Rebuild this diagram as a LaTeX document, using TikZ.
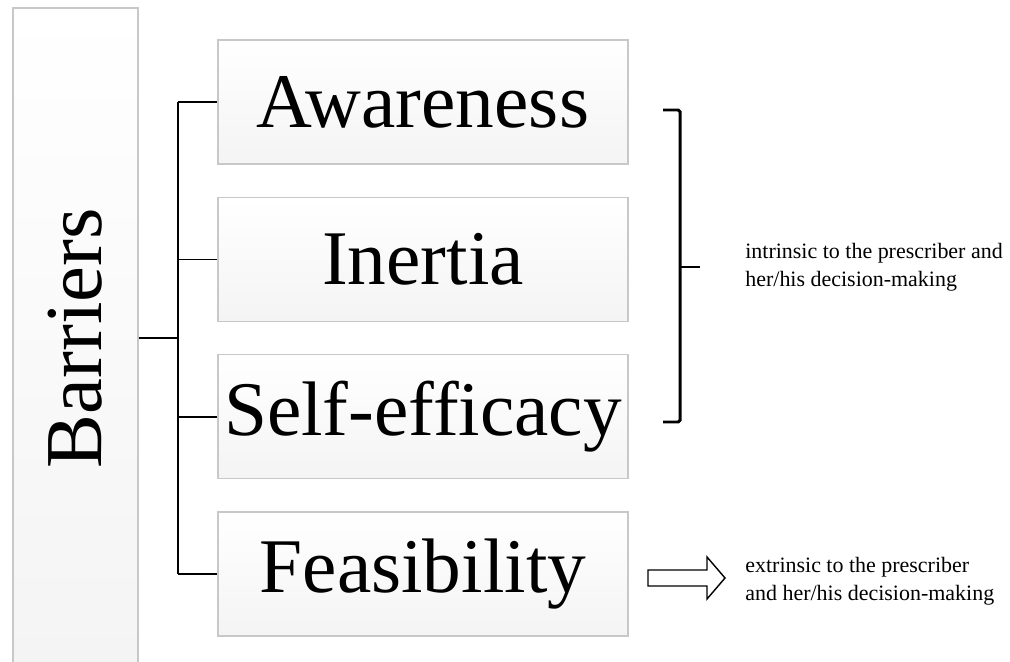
\documentclass[tikz,border=0pt]{standalone}
\usepackage{fontspec}
\setmainfont{Liberation Serif}
\usepackage{graphicx}
\usepackage{tikz}
\usetikzlibrary{positioning,calc}
\definecolor{boxedge}{RGB}{200,200,200}
\definecolor{boxshade}{RGB}{244,244,244}

\begin{document}
\begin{tikzpicture}[x=0.02cm,y=-0.02cm,
  node distance=0.64cm,
  factor/.style={rectangle,draw=boxedge,line width=0.8pt,top color=white,bottom color=boxshade,
                 minimum width=8.2cm,minimum height=2.48cm,inner sep=0pt,font=\fontsize{44}{44}\selectfont},
  rootbox/.style={rectangle,draw=boxedge,line width=0.8pt,top color=white,bottom color=boxshade,
                  minimum width=2.5cm,minimum height=13.2cm,inner sep=0pt,font=\fontsize{46}{46}\selectfont},
  note/.style={align=left,inner sep=0pt,anchor=west,font=\fontsize{12.5}{16}\selectfont},
  link/.style={draw=black,line width=0.9pt},
  bracket/.style={draw=black,line width=1.7pt,rounded corners=1pt}
]
\useasboundingbox (0,0) rectangle (1010,662);
\node[rootbox] (barriers) at (75.5,338) {\rotatebox{90}{Barriers}};
\node[factor] (aware) at (423,102) {Awareness};
\node[factor,below=of aware] (inertia) {Inertia};
\node[factor,below=of inertia] (selfeff) {Self-efficacy};
\node[factor,below=of selfeff] (feasib) {Feasibility};
\coordinate (trunk) at (178,338);
\draw[link] (barriers.east |- trunk) -- (trunk);
\draw[link] (aware.west -| trunk) -- (feasib.west -| trunk);
\foreach \n in {aware,inertia,selfeff,feasib}
  \draw[link] (\n.west -| trunk) -- (\n.west);
\draw[bracket] (663,110) -- (680,110) -- (680,422) -- (663,422);
\draw[bracket] (680,267) -- (700,267);
\draw[line width=0.8pt] (648,570) -- (707,570) -- (707,557) -- (725,578)
  -- (707,599) -- (707,586) -- (648,586) -- cycle;
\node[note] (intrinsic) at (745,267) {intrinsic to the prescriber and\\her/his decision-making};
\node[note] (extrinsic) at (745,581) {extrinsic to the prescriber\\and her/his decision-making};
\end{tikzpicture}
\end{document}
